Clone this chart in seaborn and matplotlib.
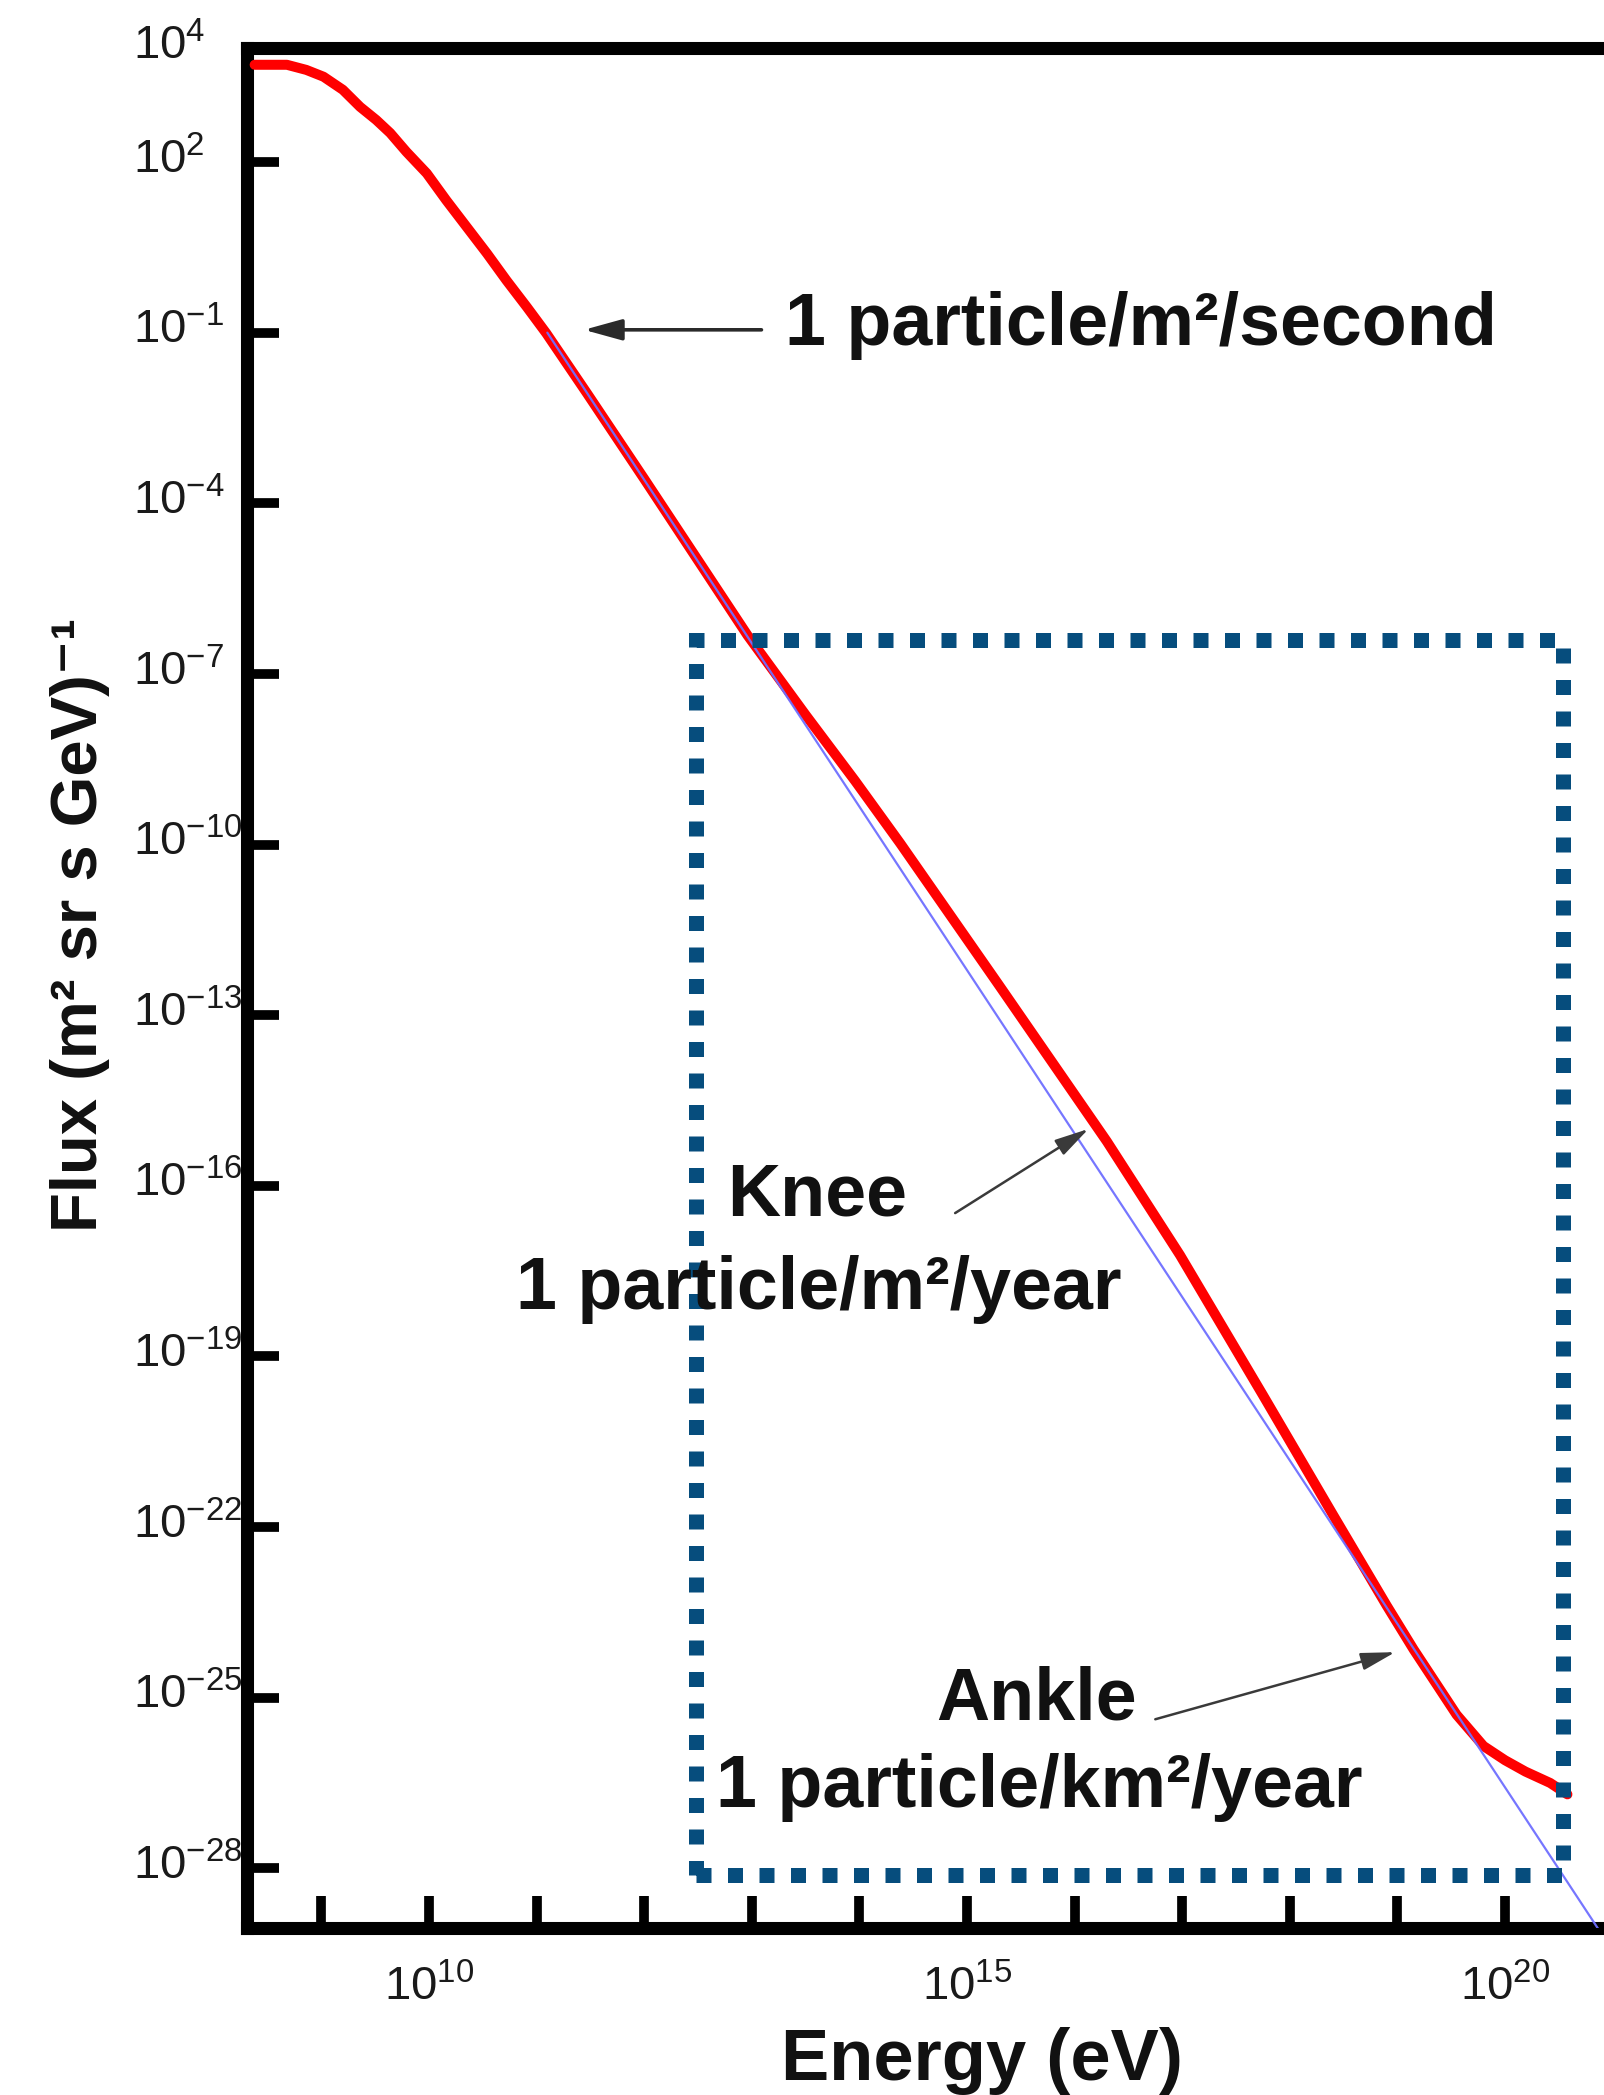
import numpy as np
import pandas as pd
import matplotlib
matplotlib.use("Agg")
import matplotlib.pyplot as plt
import matplotlib.transforms as mtransforms
from matplotlib.patches import Rectangle
from matplotlib.ticker import NullLocator
import seaborn as sns

# All-particle cosmic-ray spectrum: log10(E / eV) and log10(flux)
spectrum_log_e = [8.38, 8.68, 8.86, 9.02, 9.20, 9.36, 9.51, 9.64, 9.79, 9.98,
                  10.16, 10.35, 10.54, 10.72, 10.91, 11.09, 11.28, 11.47, 12.00,
                  12.96, 13.50, 13.96, 14.38, 15.30, 16.30, 16.98, 17.75, 18.40,
                  18.90, 19.15, 19.55, 19.80, 20.00, 20.19, 20.42, 20.58]
spectrum_log_f = [3.71, 3.71, 3.62, 3.50, 3.27, 2.97, 2.74, 2.51, 2.18, 1.80,
                  1.33, 0.86, 0.39, -0.08, -0.55, -1.01, -1.54, -2.07, -3.57,
                  -6.32, -7.72, -8.88, -9.98, -12.48, -15.22, -17.22, -19.68, -21.78,
                  -23.38, -24.15, -25.30, -25.85, -26.10, -26.30, -26.50, -26.70]

# Single power-law reference line
powerlaw_log_e = [11.10, 21.00]
powerlaw_log_f = [-1.00, -29.45]

# Axis ticks (decade exponents)
x_tick_exponents = list(range(9, 21))
x_labeled_exponents = [10, 15, 20]
y_tick_exponents = [4, 2, -1, -4, -7, -10, -13, -16, -19, -22, -25, -28]

# Highlighted region (log10 E range, log10 flux range)
box_log_e = (12.48, 20.54)
box_log_f = (-28.12, -6.40)

# Annotations: text, anchor (log E, log F)
rate_labels = {
    "second": ("1 particle/m²/second", (13.31, -1.21)),
    "knee_name": ("Knee", (13.61, -16.52)),
    "knee_rate": ("1 particle/m²/year", (13.62, -18.17)),
    "ankle_name": ("Ankle", (15.645, -25.38)),
    "ankle_rate": ("1 particle/km²/year", (15.67, -26.93)),
}
# Arrows: (tip log E, tip log F), (tail log E, tail log F)
arrows = [
    ((11.44, -0.95), (13.09, -0.95)),
    ((16.13, -15.00), (14.89, -16.48)),
    ((18.98, -24.20), (16.75, -25.38)),
]

sns.set_theme(style="white")
plt.rcParams["font.family"] = ["Liberation Sans", "DejaVu Sans"]
plt.rcParams["mathtext.default"] = "regular"
plt.rcParams["axes.unicode_minus"] = True

W, H, DPI = 1604, 2095, 100
fig = plt.figure(figsize=(W / DPI, H / DPI), dpi=DPI)
fig.patch.set_facecolor("white")

ax_left, ax_right, ax_top, ax_bottom = 247, 1604, 48, 1928
ax = fig.add_axes([ax_left / W, 1 - ax_bottom / H,
                   (ax_right - ax_left) / W, (ax_bottom - ax_top) / H])
ax.set_xscale("log")
ax.set_yscale("log")

spec = pd.DataFrame({"energy": 10.0 ** np.array(spectrum_log_e),
                     "flux": 10.0 ** np.array(spectrum_log_f)})
plaw = pd.DataFrame({"energy": 10.0 ** np.array(powerlaw_log_e),
                     "flux": 10.0 ** np.array(powerlaw_log_f)})

sns.lineplot(data=spec, x="energy", y="flux", ax=ax, color="#ff0000",
             lw=7.2, sort=False, estimator=None, zorder=3)
sns.lineplot(data=plaw, x="energy", y="flux", ax=ax, color="#6f6fff",
             lw=1.6, sort=False, estimator=None, zorder=4, alpha=0.95)
for line in ax.get_lines():
    line.set_solid_joinstyle("round")
    line.set_solid_capstyle("round")

ax.set_xlim(10 ** 8.309, 10 ** 20.92)
ax.set_ylim(10 ** -29.05, 10 ** 4.005)

# spines
for side in ["left", "top", "bottom"]:
    ax.spines[side].set_visible(True)
    ax.spines[side].set_linewidth(9.4)
    ax.spines[side].set_color("black")
ax.spines["right"].set_visible(False)

# ticks
ax.xaxis.set_minor_locator(NullLocator())
ax.yaxis.set_minor_locator(NullLocator())
ax.set_xticks([10.0 ** k for k in x_tick_exponents])
ax.set_xticklabels([f"$10^{{{k}}}$" if k in x_labeled_exponents else ""
                    for k in x_tick_exponents])
ax.set_yticks([10.0 ** k for k in y_tick_exponents])
ax.set_yticklabels([f"$10^{{{k}}}$" for k in y_tick_exponents])
ax.tick_params(axis="both", which="major", direction="in", length=23,
               width=7, color="black", labelcolor="#1a1a1a", labelsize=34)
ax.tick_params(axis="x", pad=27, top=False, bottom=True)
ax.tick_params(axis="y", pad=82, left=True, right=False)

offset = mtransforms.ScaledTranslation(0, -11 / DPI, fig.dpi_scale_trans)
for lab in ax.get_yticklabels():
    lab.set_horizontalalignment("left")
    lab.set_verticalalignment("baseline")
    lab.set_transform(lab.get_transform() + offset)

# axis labels
ax.set_xlabel("Energy (eV)", fontsize=52, fontweight="bold", color="#111111")
ax.xaxis.set_label_coords((982 - ax_left) / (ax_right - ax_left),
                          (ax_bottom - 2080) / (ax_bottom - ax_top))
ax.xaxis.label.set_verticalalignment("baseline")

ax.set_ylabel("Flux (m² sr s GeV)⁻¹", fontsize=47, fontweight="bold", color="#111111")
ax.yaxis.set_label_coords((97 - ax_left) / (ax_right - ax_left),
                          (ax_bottom - 925) / (ax_bottom - ax_top))
ax.yaxis.label.set_verticalalignment("baseline")

# highlighted region
box = Rectangle((10 ** box_log_e[0], 10 ** box_log_f[0]),
                10 ** box_log_e[1] - 10 ** box_log_e[0],
                10 ** box_log_f[1] - 10 ** box_log_f[0],
                fill=False, edgecolor="#064d7d", lw=10.8,
                linestyle=(0, (1, 1.1)), zorder=5, clip_on=False)
ax.add_patch(box)

# rate annotations
text_style = dict(fontsize=53, fontweight="bold", color="#111111", zorder=6)
t, (le, lf) = rate_labels["second"]
ax.text(10 ** le, 10 ** lf, t, ha="left", va="baseline", **text_style)
for key in ["knee_name", "knee_rate", "ankle_name", "ankle_rate"]:
    t, (le, lf) = rate_labels[key]
    ax.text(10 ** le, 10 ** lf, t, ha="center", va="baseline", **text_style)

arrow_styles = [
    dict(arrowstyle="-|>,head_length=0.58,head_width=0.16", color="#2a2a2a",
         lw=2.6, mutation_scale=40, shrinkA=0, shrinkB=0),
    dict(arrowstyle="-|>,head_length=0.55,head_width=0.14", color="#3a3a3a",
         lw=1.8, mutation_scale=38, shrinkA=0, shrinkB=0),
    dict(arrowstyle="-|>,head_length=0.55,head_width=0.14", color="#3a3a3a",
         lw=1.8, mutation_scale=38, shrinkA=0, shrinkB=0),
]
for ((te, tf), (se, sf)), style in zip(arrows, arrow_styles):
    ax.annotate("", xy=(10 ** te, 10 ** tf), xytext=(10 ** se, 10 ** sf),
                arrowprops=style, zorder=6)

fig.savefig("out.png", dpi=DPI, facecolor="white")
